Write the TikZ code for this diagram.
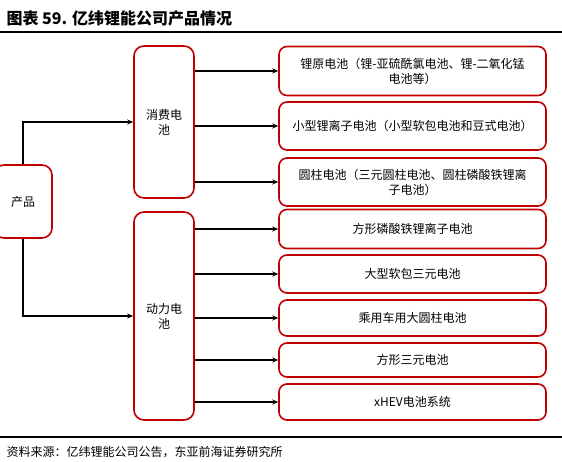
\documentclass[tikz,border=0pt]{standalone}
\usepackage{fontspec}
\setmainfont{Noto Sans CJK SC}
\usepackage{xcolor}
\usetikzlibrary{arrows.meta,positioning}
\definecolor{boxred}{RGB}{192,0,0}

\begin{document}
\begin{tikzpicture}[x=1pt, y=-1pt,
    box/.style={draw=boxred, line width=1.6pt, rounded corners=8pt, inner sep=0pt,
      align=center, font=\fontsize{12}{15}\selectfont},
    sidebox/.style={box, rounded corners=10pt, minimum width=60pt},
    itembox/.style={box, minimum width=267pt},
    arr/.style={-{Stealth[length=6pt,width=5pt]}, line width=1.5pt}]
  \clip (0,0) rectangle (562,462);

  % title and rules
  \node[anchor=west, font=\fontsize{16}{19}\selectfont\bfseries] (title) at (3,18) {图表 59. 亿纬锂能公司产品情况};
  \draw[line width=2pt] (0,32) -- (562,32);
  \draw[line width=1.2pt] (0,437) -- (562,437);
  \node[anchor=west, font=\fontsize{12}{14}\selectfont] (source) at (3,452) {资料来源：亿纬锂能公司公告，东亚前海证券研究所};

  % left side
  \node[sidebox, minimum width=58pt, minimum height=73pt] (product) at (23,201.5) {产品};
  \node[sidebox, minimum height=152pt] (consumer) at (164,122) {消费电\\池};
  \node[sidebox, minimum height=208pt] (power) at (164,316) {动力电\\池};

  % consumer batteries
  \node[itembox, minimum height=49pt] (c1) at (412.5,71) {锂原电池（锂-亚硫酰氯电池、锂-二氧化锰\\电池等）};
  \node[itembox, minimum height=48pt] (c2) at (412.5,126) {小型锂离子电池（小型软包电池和豆式电池）};
  \node[itembox, minimum height=48pt] (c3) at (412.5,182) {圆柱电池（三元圆柱电池、圆柱磷酸铁锂离\\子电池）};

  % power batteries
  \node[itembox, minimum height=39pt] (p1) at (412.5,229) {方形磷酸铁锂离子电池};
  \node[itembox, minimum height=38pt] (p2) at (412.5,274) {大型软包三元电池};
  \node[itembox, minimum height=36pt] (p3) at (412.5,318) {乘用车用大圆柱电池};
  \node[itembox, minimum height=34pt] (p4) at (412.5,360) {方形三元电池};
  \node[itembox, minimum height=36pt] (p5) at (412.5,402) {xHEV电池系统};

  \draw[arr] (product.north) |- (consumer.west);
  \draw[arr] (product.south) |- (power.west);
  \foreach \n in {c1,c2,c3}
    \draw[arr] (consumer.east |- \n.west) -- (\n.west);
  \foreach \n in {p1,p2,p3,p4,p5}
    \draw[arr] (power.east |- \n.west) -- (\n.west);
\end{tikzpicture}
\end{document}
